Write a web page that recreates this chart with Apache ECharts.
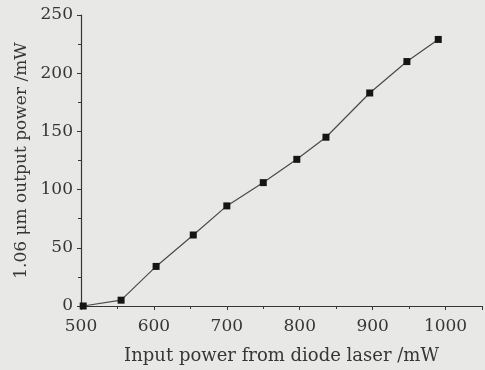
<!DOCTYPE html>
<html lang="en">
<head>
    <meta charset="UTF-8">
    <title>Output power</title>
    <script src="https://cdn.jsdelivr.net/npm/echarts@6/dist/echarts.min.js"></script>
    <style>
        body { margin:0; background:#e8e8e6; }
    </style>
</head>
<body>
    <div id="ec" style="width:485px;height:370px"></div>
</body>
<script>
    // values
    var inputPower = [503, 555, 603, 654, 700, 750, 796, 836, 896, 947, 990]
    var outputPower = [0, 5, 34, 61, 86, 106, 126, 145, 183, 210, 229]

    var pts = inputPower.map(function (x, i) { return [x, outputPower[i]] })
    var font = 'DejaVu Serif'
    var ink = '#363636'

    var mychart = echarts.init(document.getElementById('ec'))
    var options = {
        backgroundColor:'#e8e8e6',
        animation:false,
        grid:{ left:81, right:1, top:15, bottom:64 },
        xAxis:{
            type:'value',
            min:500,
            max:1050,
            interval:100,
            name:'Input power from diode laser /mW',
            nameLocation:'middle',
            nameGap:41,
            nameTextStyle:{ fontFamily:font, fontSize:18, color:ink },
            axisLine:{ lineStyle:{ color:ink, width:1.2 } },
            axisTick:{ length:4, lineStyle:{ color:ink } },
            minorTick:{ show:true, splitNumber:2, length:3, lineStyle:{ color:ink } },
            axisLabel:{
                fontFamily:font, fontSize:17, color:ink, margin:12,
                formatter:function (v) { return v > 1000 ? '' : v }
            },
            splitLine:{ show:false }
        },
        yAxis:{
            type:'value',
            min:0,
            max:250,
            interval:50,
            name:'1.06 μm output power /mW',
            nameLocation:'middle',
            nameGap:50,
            nameTextStyle:{ fontFamily:font, fontSize:17, color:ink },
            axisLine:{ show:true, lineStyle:{ color:ink, width:1.2 } },
            axisTick:{ show:true, length:4, lineStyle:{ color:ink } },
            minorTick:{ show:true, splitNumber:2, length:3, lineStyle:{ color:ink } },
            axisLabel:{ fontFamily:font, fontSize:17, color:ink, margin:8 },
            splitLine:{ show:false }
        },
        series:[{
            type:'line',
            data:pts,
            symbol:'rect',
            symbolSize:7,
            lineStyle:{ color:'#4a4a4a', width:1.2 },
            itemStyle:{ color:'#151515' }
        }]
    }
    mychart.setOption(options)
</script>
</html>
